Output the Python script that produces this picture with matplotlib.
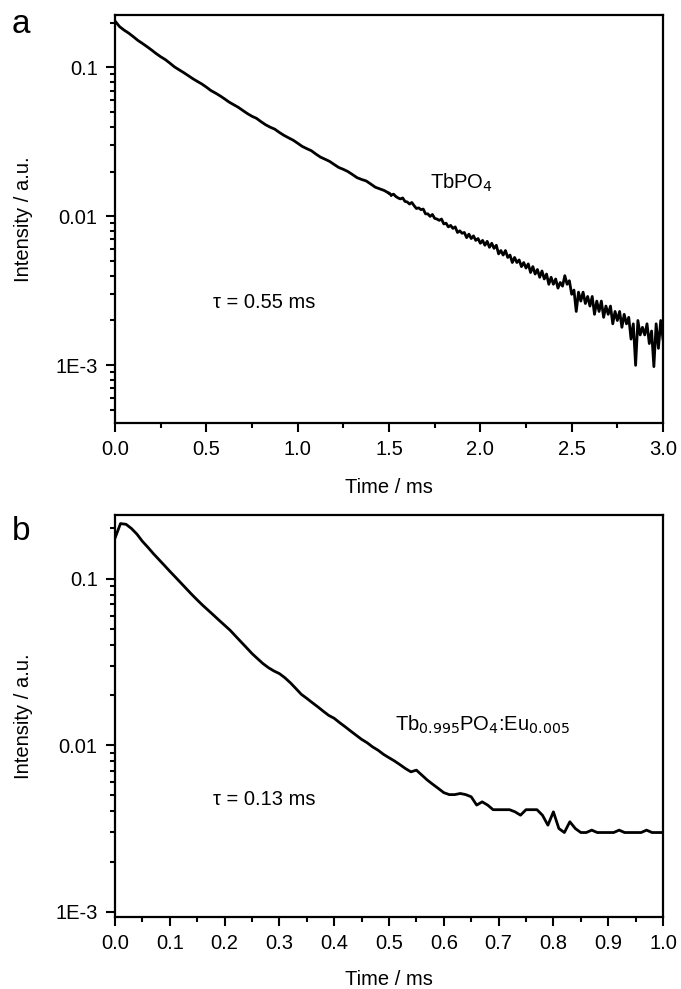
import numpy as np
import matplotlib
matplotlib.use("Agg")
import matplotlib.pyplot as plt
from matplotlib.ticker import FixedLocator, NullFormatter, MultipleLocator, FuncFormatter

plt.rcParams['font.family'] = ['Liberation Sans', 'DejaVu Sans']

# ---- panel a: TbPO4 decay ----
# 0 .. 1.5 ms, step 0.025 ms
time_a1 = np.round(np.arange(0, 1.5001, 0.025), 4)
intensity_a1 = [
    0.205, 0.188, 0.178, 0.170, 0.161, 0.152, 0.145, 0.138, 0.131, 0.124,
    0.118, 0.113, 0.107, 0.101, 0.0966, 0.0925, 0.0883, 0.0842, 0.0807, 0.0775,
    0.0738, 0.0700, 0.0673, 0.0645, 0.0615, 0.0585, 0.0562, 0.0540, 0.0514, 0.0490,
    0.0470, 0.0455, 0.0432, 0.0412, 0.0397, 0.0385, 0.0366, 0.0350, 0.0337, 0.0325,
    0.0310, 0.0295, 0.0285, 0.0276, 0.0262, 0.0250, 0.0242, 0.0234, 0.0223, 0.0213,
    0.0207, 0.0200, 0.0191, 0.0182, 0.0177, 0.0173, 0.0165, 0.0157, 0.0153, 0.0149,
    0.0143,
]
# 1.5125 .. 3.0 ms, step 0.0125 ms (noisy tail)
time_a2 = np.round(np.arange(1.5125, 3.0001, 0.0125), 4)
intensity_a2 = [
    0.0139, 0.0141, 0.0136, 0.0133, 0.0131, 0.0133, 0.0126, 0.0125,
    0.0121, 0.0124, 0.0118, 0.0113, 0.0114, 0.0111, 0.0112, 0.0104,
    0.0104, 0.0100, 0.0103, 0.0097, 0.0096, 0.0094, 0.0096, 0.0089,
    0.0090, 0.0085, 0.0087, 0.0083, 0.0085, 0.0078, 0.0080, 0.0077,
    0.0078, 0.0072, 0.0076, 0.0071, 0.0074, 0.0069, 0.0071, 0.0066,
    0.0069, 0.0064, 0.0068, 0.0062, 0.0066, 0.0061, 0.0064, 0.0056,
    0.0059, 0.0055, 0.0059, 0.0053, 0.0055, 0.0049, 0.0053, 0.0049,
    0.0051, 0.0046, 0.0049, 0.0045, 0.0048, 0.0042, 0.0046, 0.0041,
    0.0044, 0.0039, 0.0043, 0.0038, 0.0041, 0.0035, 0.0039, 0.0035,
    0.0038, 0.0033, 0.0036, 0.0034, 0.0040, 0.0035, 0.0037, 0.0030,
    0.0032, 0.0023, 0.0031, 0.0027, 0.0031, 0.0026, 0.0029, 0.0025,
    0.0029, 0.0022, 0.0027, 0.0023, 0.0027, 0.0021, 0.0025, 0.0022,
    0.0025, 0.0019, 0.0023, 0.0020, 0.0023, 0.0018, 0.0022, 0.0019,
    0.0021, 0.0015, 0.0019, 0.0010, 0.0020, 0.0016, 0.0018, 0.0016,
    0.0019, 0.0014, 0.0017, 0.00098, 0.0019, 0.0013, 0.0020, 0.0015,
]

# ---- panel b: Tb0.995PO4:Eu0.005 decay (step 0.01 ms) ----
time_b = np.round(np.arange(0, 1.0001, 0.01), 4)
intensity_b = [
    0.175, 0.214, 0.212, 0.200, 0.185, 0.1675, 0.1542, 0.1413, 0.1303, 0.1202,
    0.1107, 0.1023, 0.0944, 0.0871, 0.0804, 0.0745, 0.0692, 0.0646, 0.0603, 0.0562,
    0.0525, 0.0490, 0.0452, 0.0417, 0.0385, 0.0355, 0.0331, 0.0309, 0.0292, 0.0279,
    0.0269, 0.0254, 0.0237, 0.0219, 0.0202, 0.0191, 0.0180, 0.0170, 0.0160, 0.0151,
    0.0145, 0.01365, 0.0129, 0.01216, 0.01148, 0.01084, 0.01035, 0.00977, 0.00933, 0.00881,
    0.00841, 0.00804, 0.00764, 0.00724, 0.00692, 0.00708, 0.00661, 0.00617, 0.00582, 0.00550,
    0.00519, 0.00505, 0.00505, 0.00513, 0.00505, 0.00490, 0.00437, 0.00457, 0.00437, 0.0041,
    0.0041, 0.0041, 0.0041, 0.00398, 0.0038, 0.0041, 0.0041, 0.0041, 0.0038, 0.00331,
    0.00398, 0.00316, 0.00299, 0.00347, 0.00316, 0.00299, 0.00299, 0.00309, 0.00299, 0.00299,
    0.00299, 0.00299, 0.00309, 0.00299, 0.00299, 0.00299, 0.00299, 0.00309, 0.00299, 0.00299,
    0.00299,
]

ytick_vals = [1e-3, 1e-2, 1e-1]
ytick_labels = ["1E-3", "0.01", "0.1"]

FS = 14.5
W, H = 681, 989
fig = plt.figure(figsize=(W / 100, H / 100), dpi=100)

def px_axes(left, top, right, bottom):
    return fig.add_axes([left / W, 1 - bottom / H, (right - left) / W, (bottom - top) / H])

ax_a = px_axes(115, 15, 663, 423)
ax_b = px_axes(115, 515, 663, 917)

def style(ax, ylim, xlim, major_x, minor_x, xlab_y, ylab_x):
    ax.set_yscale('log')
    ax.set_ylim(*ylim)
    ax.set_xlim(*xlim)
    ax.yaxis.set_major_locator(FixedLocator(ytick_vals))
    ax.set_yticks(ytick_vals)
    ax.set_yticklabels(ytick_labels)
    minors = [k * dec for dec in [1e-4, 1e-3, 1e-2, 1e-1] for k in range(2, 10)]
    ax.yaxis.set_minor_locator(FixedLocator(minors))
    ax.yaxis.set_minor_formatter(NullFormatter())
    ax.xaxis.set_major_locator(MultipleLocator(major_x))
    ax.xaxis.set_minor_locator(MultipleLocator(minor_x))
    ax.xaxis.set_major_formatter(FuncFormatter(lambda v, p: "{:.1f}".format(v)))
    for s in ax.spines.values():
        s.set_linewidth(1.6)
    ax.tick_params(which='major', direction='out', length=6.5, width=1.5,
                   labelsize=FS, pad=6)
    ax.tick_params(which='minor', direction='out', length=3.5, width=1.5)
    ax.tick_params(top=False, right=False, which='both')
    ax.set_xlabel("Time / ms", fontsize=FS)
    ax.set_ylabel("Intensity / a.u.", fontsize=FS)
    ax.xaxis.set_label_coords(0.5, xlab_y)
    ax.yaxis.set_label_coords(ylab_x, 0.5)

ax_a.plot(time_a1, intensity_a1, color='black', lw=2.0)
ax_a.plot(time_a2, intensity_a2, color='black', lw=2.0)
ax_a.plot([time_a1[-1], time_a2[0]], [intensity_a1[-1], intensity_a2[0]], color='black', lw=2.0)
style(ax_a, (4.1e-4, 0.225), (0, 3.0), 0.5, 0.25, -0.135, -0.150)
ax_a.text(1.724, 0.0169, "TbPO$_4$", fontsize=FS, va='center', ha='left')
ax_a.text(0.536, 0.00265, "τ = 0.55 ms", fontsize=FS, va='center', ha='left')

ax_b.plot(time_b, intensity_b, color='black', lw=2.0)
style(ax_b, (9.3e-4, 0.241), (0, 1.0), 0.1, 0.05, -0.132, -0.150)
ax_b.text(0.511, 0.01327, "Tb$_{0.995}$PO$_4$:Eu$_{0.005}$", fontsize=FS, va='center', ha='left')
ax_b.text(0.179, 0.00471, "τ = 0.13 ms", fontsize=FS, va='center', ha='left')

fig.text(12 / W, 1 - 33 / H, "a", fontsize=24, va='baseline', ha='left')
fig.text(12 / W, 1 - 540 / H, "b", fontsize=24, va='baseline', ha='left')

fig.savefig("out.png", dpi=100)
